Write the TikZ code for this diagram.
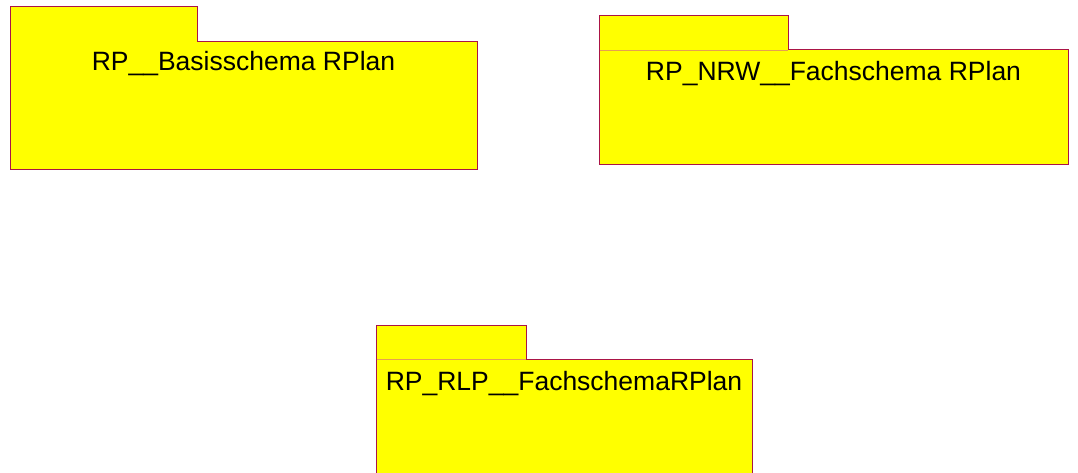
\documentclass[tikz,border=0pt]{standalone}
\usepackage{fontspec}
\setmainfont{Liberation Sans}
\usepackage{xcolor}
\usepackage{tikz}

\definecolor{pkgfill}{RGB}{255,255,0}
\definecolor{pkgborder}{RGB}{170,20,70}
\definecolor{pkgsep}{RGB}{230,160,80}

\begin{document}
\begin{tikzpicture}[x=1pt, y=-1pt,
  pkg/.style={draw=pkgborder, fill=pkgfill, line width=1pt},
  pkgsep/.style={draw=pkgsep, line width=0.6pt},
  pkglabel/.style={anchor=base, inner sep=0pt, font=\fontsize{26.5}{30}\selectfont}]
\useasboundingbox (0,0) rectangle (1078,473);
\clip (0,0) rectangle (1078,473);
% RP__Basisschema RPlan
\draw[pkg] (10,170) -- (10,7) -- (197,7) -- (197,42) -- (477,42) -- (477,170) -- cycle;
\node[pkglabel] (basis) at (243.5,71) {RP\_\_Basisschema RPlan};
% RP_NRW__Fachschema RPlan
\draw[pkg] (599,165) -- (599,16) -- (788,16) -- (788,50) -- (1068,50) -- (1068,165) -- cycle;
\draw[pkgsep] (599.5,50) -- (787.5,50);
\node[pkglabel] (nrw) at (833.5,81) {RP\_NRW\_\_Fachschema RPlan};
% RP_RLP__FachschemaRPlan
\draw[pkg] (376,490) -- (376,325) -- (526,325) -- (526,359) -- (752,359) -- (752,490) -- cycle;
\draw[pkgsep] (376.5,359) -- (525.5,359);
\node[pkglabel] (rlp) at (564,390) {RP\_RLP\_\_FachschemaRPlan};
\end{tikzpicture}
\end{document}
